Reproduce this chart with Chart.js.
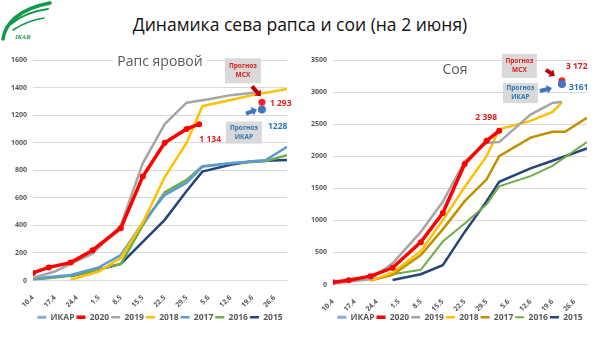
<!DOCTYPE html>
<html>
<head>
<meta charset="utf-8">
<script src="https://cdn.jsdelivr.net/npm/chart.js@4.4.1/dist/chart.umd.min.js"></script>
<style>
  body { margin: 0; width: 600px; height: 338px; background: #fff; overflow: hidden; position: relative; font-family: "Open Sans", sans-serif; }
  #title { position: absolute; left: 0; width: 600px; top: 12px; text-align: center; font-size: 17.5px; color: #111; }
  #logo { position: absolute; left: 0; top: 0; }
  .box { position: absolute; top: 0; width: 300px; height: 338px; }
</style>
</head>
<body>
<svg id="logo" width="60" height="44" viewBox="0 0 60 44">
  <path d="M3 39 C 5 24, 18 9, 50 3" stroke="#12994a" stroke-width="3.5" fill="none" stroke-linecap="round"/>
  <path d="M11 24 C 20 16, 33 11, 48 9" stroke="#12994a" stroke-width="2" fill="none" stroke-linecap="round"/>
  <path d="M13 30 C 22 24, 32 20, 44 18" stroke="#12994a" stroke-width="1.6" fill="none" stroke-linecap="round"/>
  <text x="15" y="39" font-size="6.5" font-style="italic" font-weight="bold" fill="#12994a" font-family="Liberation Serif">IKAR</text>
</svg>
<div id="title">Динамика сева рапса и сои (на 2 июня)</div>
<div class="box" style="left:0"><canvas id="rapeCanvas" width="300" height="338"></canvas></div>
<div class="box" style="left:300px"><canvas id="soyCanvas" width="300" height="338"></canvas></div>
<script>
// подписи оси X (день 0 = 10.4, шаг 7 дней)
const tickLabels = ['10.4', '17.4', '24.4', '1.5', '8.5', '15.5', '22.5', '29.5', '5.6', '12.6', '19.6', '26.6'];

// Рапс яровой
const rape2020Days = [0, 5, 12, 19, 28, 35, 42, 49, 53];
const rape2020 = [55, 95, 130, 220, 380, 755, 1000, 1100, 1134];
const rape2019Days = [0, 7, 12, 19, 28, 35, 42, 49, 56, 63, 71];
const rape2019 = [20, 65, 120, 195, 400, 850, 1135, 1290, 1315, 1345, 1365];
const rape2018Days = [12, 21, 28, 35, 42, 49, 54, 63, 70, 81];
const rape2018 = [5, 65, 165, 420, 750, 1000, 1265, 1310, 1345, 1390];
const rape2017Days = [0, 12, 21, 28, 35, 42, 49, 54, 63, 70, 74, 81];
const rape2017 = [15, 40, 95, 185, 420, 620, 710, 825, 850, 865, 870, 970];
const rape2016Days = [0, 12, 21, 28, 35, 42, 49, 54, 63, 70, 74, 81];
const rape2016 = [5, 35, 80, 120, 400, 640, 730, 830, 850, 860, 865, 910];
const rape2015Days = [12, 21, 28, 35, 42, 49, 54, 63, 70, 81];
const rape2015 = [30, 80, 120, 280, 440, 650, 790, 840, 865, 875];
const rapeIkarDay = [73];
const rapeIkar = [1240];
const rapeMshDay = [73];
const rapeMsh = [1293];

// Соя
const soy2020Days = [0, 5, 12, 19, 28, 35, 42, 49, 53];
const soy2020 = [35, 65, 130, 260, 660, 1115, 1880, 2240, 2398];
const soy2019Days = [0, 12, 19, 28, 35, 42, 49, 53, 63, 70, 73];
const soy2019 = [15, 80, 330, 820, 1290, 1920, 2210, 2220, 2650, 2830, 2850];
const soy2018Days = [12, 19, 28, 35, 42, 49, 53, 63, 70, 73];
const soy2018 = [60, 185, 520, 1000, 1520, 2000, 2420, 2550, 2690, 2840];
const soy2017Days = [12, 19, 28, 35, 42, 49, 53, 63, 70, 74, 81];
const soy2017 = [60, 150, 460, 860, 1300, 1640, 2000, 2290, 2380, 2380, 2600];
const soy2016Days = [12, 19, 28, 35, 42, 49, 53, 63, 70, 81];
const soy2016 = [70, 160, 230, 670, 950, 1250, 1530, 1690, 1850, 2220];
const soy2015Days = [19, 28, 35, 42, 49, 53, 63, 70, 81];
const soy2015 = [70, 160, 300, 820, 1300, 1600, 1810, 1930, 2120];
const soyIkarDay = [73];
const soyIkar = [3125];
const soyMshDay = [73];
const soyMsh = [3175];

const GRAY = '#595959';
const FONT = '"Open Sans", sans-serif';

function pts(days, vals) {
  return days.map((d, i) => ({ x: d, y: vals[i] }));
}

function line(label, data, color, width, extra) {
  return Object.assign({
    label: label, data: data, borderColor: color, backgroundColor: color,
    borderWidth: width, pointRadius: 0, tension: 0
  }, extra || {});
}

function arrow(ctx, x1, y1, x2, y2, color) {
  const a = Math.atan2(y2 - y1, x2 - x1);
  const len = Math.hypot(x2 - x1, y2 - y1);
  ctx.save();
  ctx.translate(x1, y1);
  ctx.rotate(a);
  ctx.fillStyle = color;
  ctx.beginPath();
  ctx.moveTo(0, -2);
  ctx.lineTo(len - 5, -2);
  ctx.lineTo(len - 5, -4.5);
  ctx.lineTo(len, 0);
  ctx.lineTo(len - 5, 4.5);
  ctx.lineTo(len - 5, 2);
  ctx.lineTo(0, 2);
  ctx.closePath();
  ctx.fill();
  ctx.restore();
}

function noteBox(ctx, x, y, w, h, word, color) {
  ctx.fillStyle = '#d9d9d9';
  ctx.fillRect(x, y, w, h);
  ctx.fillStyle = color;
  ctx.font = 'bold 6.5px ' + FONT;
  ctx.textAlign = 'center';
  ctx.textBaseline = 'middle';
  ctx.fillText('Прогноз', x + w / 2, y + h / 2 - 4.5);
  ctx.fillText(word, x + w / 2, y + h / 2 + 4.5);
}

const notesPlugin = {
  id: 'notes',
  beforeDatasetsDraw(chart, args, o) {
    const { ctx, chartArea } = chart;
    ctx.save();
    ctx.font = '14px ' + FONT;
    const w = ctx.measureText(o.title).width;
    const cx = (chartArea.left + chartArea.right) / 2 + o.titleDx;
    const cy = chartArea.top + o.titleDy;
    ctx.fillStyle = '#fff';
    ctx.fillRect(cx - w / 2 - 4, cy - 9, w + 8, 18);
    ctx.fillStyle = GRAY;
    ctx.textAlign = 'center';
    ctx.textBaseline = 'middle';
    ctx.fillText(o.title, cx, cy);
    ctx.restore();
  },
  afterDatasetsDraw(chart, args, o) {
    const ctx = chart.ctx;
    const ikar = chart.getDatasetMeta(0).data[0];
    const cur = chart.getDatasetMeta(1).data;
    const last = cur[cur.length - 1];
    const msh = chart.getDatasetMeta(7).data[0];
    ctx.save();
    noteBox(ctx, msh.x + o.mshBox[0], msh.y + o.mshBox[1], o.mshBox[2], o.mshBox[3], 'МСХ', '#e02020');
    noteBox(ctx, ikar.x + o.ikarBox[0], ikar.y + o.ikarBox[1], o.ikarBox[2], o.ikarBox[3], 'ИКАР', '#2e75b6');
    arrow(ctx, msh.x + o.mshArrow[0], msh.y + o.mshArrow[1], msh.x + o.mshArrow[2], msh.y + o.mshArrow[3], '#c00000');
    arrow(ctx, ikar.x + o.ikarArrow[0], ikar.y + o.ikarArrow[1], ikar.x + o.ikarArrow[2], ikar.y + o.ikarArrow[3], '#4472c4');
    ctx.font = 'bold 8.5px ' + FONT;
    ctx.textBaseline = 'middle';
    ctx.textAlign = 'left';
    ctx.fillStyle = '#e02020';
    ctx.fillText(o.mshText, msh.x + o.mshTextAt[0], msh.y + o.mshTextAt[1]);
    ctx.fillStyle = '#2e75b6';
    ctx.fillText(o.ikarText, ikar.x + o.ikarTextAt[0], ikar.y + o.ikarTextAt[1]);
    ctx.textAlign = 'center';
    ctx.fillStyle = '#e02020';
    ctx.fillText(o.lastText, last.x + o.lastTextAt[0], last.y + o.lastTextAt[1]);
    ctx.restore();
  }
};

function legendItems(chart) {
  const items = Chart.defaults.plugins.legend.labels.generateLabels(chart);
  items.forEach((it) => {
    const ds = chart.data.datasets[it.datasetIndex];
    it.strokeStyle = ds.borderColor;
    it.lineWidth = ds.borderWidth;
    it.pointStyle = 'line';
  });
  return items.filter((it) => it.text !== 'МСХ');
}

function makeChart(id, sets, yMax, yStep, axisHeight, notes) {
  return new Chart(document.getElementById(id), {
    type: 'line',
    data: { datasets: sets },
    plugins: [notesPlugin],
    options: {
      responsive: false,
      animation: false,
      layout: { padding: { top: 60, right: 13, bottom: 6.5, left: 0 } },
      scales: {
        x: {
          type: 'linear', min: 0, max: 81,
          afterFit: (s) => { s.height = axisHeight; },
          grid: { display: false },
          border: { color: '#d9d9d9' },
          ticks: {
            stepSize: 7, includeBounds: false, autoSkip: false,
            minRotation: 45, maxRotation: 45, padding: 5,
            color: GRAY, font: { size: 7, weight: 'bold', family: FONT },
            callback: (v) => tickLabels[v / 7]
          }
        },
        y: {
          min: 0, max: yMax,
          afterFit: (s) => { s.width = 33; },
          grid: { color: '#d9d9d9', drawTicks: false },
          border: { display: false },
          ticks: {
            stepSize: yStep, padding: 6, color: GRAY,
            font: { size: 7, weight: 'bold', family: FONT },
            callback: (v) => String(v)
          }
        }
      },
      plugins: {
        tooltip: { enabled: false },
        notes: notes,
        legend: {
          position: 'bottom',
          fullSize: false,
          labels: {
            usePointStyle: true, pointStyleWidth: 9,
            padding: 2, color: GRAY, font: { size: 8.5, weight: 'bold', family: FONT },
            generateLabels: legendItems
          }
        }
      }
    }
  });
}

const ikarStyle = { showLine: false, pointRadius: 4, pointBackgroundColor: '#4472c4', pointBorderWidth: 0 };
const mshStyle = { showLine: false, pointRadius: 3.5, pointBackgroundColor: '#ff2020', pointBorderWidth: 0 };
const curStyle = { pointRadius: 3, pointBackgroundColor: '#ff0000', pointBorderWidth: 0 };

makeChart('rapeCanvas', [
  line('ИКАР', pts(rapeIkarDay, rapeIkar), '#8ea9db', 3, ikarStyle),
  line('2020', pts(rape2020Days, rape2020), '#ff0000', 3.5, curStyle),
  line('2019', pts(rape2019Days, rape2019), '#a5a5a5', 2.5),
  line('2018', pts(rape2018Days, rape2018), '#ffc000', 2.5),
  line('2017', pts(rape2017Days, rape2017), '#5b9bd5', 2.5),
  line('2016', pts(rape2016Days, rape2016), '#70ad47', 2.5),
  line('2015', pts(rape2015Days, rape2015), '#264478', 2.5),
  line('МСХ', pts(rapeMshDay, rapeMsh), '#ff2020', 3, mshStyle)
], 1600, 200, 30.5, {
  title: 'Рапс яровой', titleDx: 0, titleDy: 2,
  mshBox: [-37, -44, 36, 25], ikarBox: [-36, 12, 36, 22],
  mshArrow: [-10, -16, -1, -6], ikarArrow: [-16, 4, -5, 0],
  mshText: '1 293', mshTextAt: [8, 1],
  ikarText: '1228', ikarTextAt: [6, 17],
  lastText: '1 134', lastTextAt: [11, 15]
});

makeChart('soyCanvas', [
  line('ИКАР', pts(soyIkarDay, soyIkar), '#8ea9db', 3, ikarStyle),
  line('2020', pts(soy2020Days, soy2020), '#ff0000', 3.5, curStyle),
  line('2019', pts(soy2019Days, soy2019), '#a5a5a5', 2.5),
  line('2018', pts(soy2018Days, soy2018), '#ffc000', 2.5),
  line('2017', pts(soy2017Days, soy2017), '#bf9000', 2.5),
  line('2016', pts(soy2016Days, soy2016), '#70ad47', 2),
  line('2015', pts(soy2015Days, soy2015), '#264478', 2.5),
  line('МСХ', pts(soyMshDay, soyMsh), '#ff2020', 3, mshStyle)
], 3500, 500, 26.5, {
  title: 'Соя', titleDx: -5, titleDy: 10,
  mshBox: [-60, -27, 35, 24], ikarBox: [-59, -1, 35, 20],
  mshArrow: [-16, -11, -7, -5], ikarArrow: [-22, 7, -10, 4],
  mshText: '3 172', mshTextAt: [4, -14],
  ikarText: '3161', ikarTextAt: [7, 4],
  lastText: '2 398', lastTextAt: [-13, -13]
});
</script>
</body>
</html>
